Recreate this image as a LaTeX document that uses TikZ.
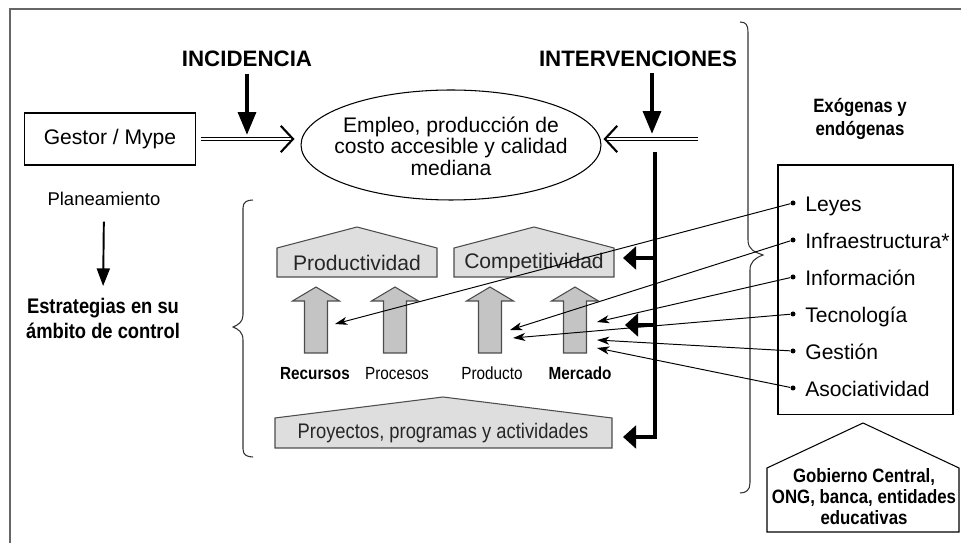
\documentclass[tikz,border=0pt]{standalone}
\usepackage{fontspec}
\setmainfont{Liberation Sans}
\newfontfamily\condfont{Liberation Sans}[FakeStretch=0.87]
\usetikzlibrary{arrows.meta,shapes.geometric,calc}

\begin{document}
\begin{tikzpicture}[%
    x=0.02cm, y=-0.02cm,
    frame/.style={draw=black!60, line width=0.6pt},
    box/.style={draw, line width=0.7pt, minimum width=3.42cm, minimum height=1.04cm,
      font=\fontsize{12}{14}\selectfont},
    goal/.style={ellipse, draw, line width=0.6pt, minimum width=6cm, minimum height=2.2cm},
    head/.style={font=\bfseries\fontsize{12.7}{15}\selectfont, inner sep=0pt},
    plain/.style={font=\fontsize{12}{14}\selectfont, inner sep=0pt},
    small/.style={font=\fontsize{10.5}{12}\selectfont, inner sep=0pt},
    cond/.style={font=\condfont\fontsize{10}{12}\selectfont, inner sep=0pt},
    condbf/.style={font=\condfont\bfseries\fontsize{11}{13}\selectfont, inner sep=0pt, align=center},
    house/.style={draw=black!70, fill=black!13, line width=0.6pt},
    blockarrow/.style={draw=black!70, fill=black!23, line width=0.6pt},
    brace/.style={draw=black!80, line width=0.6pt},
    bigarrow/.style={line width=2.4pt, -{Triangle[length=13pt,width=10pt]}},
    bar/.style={line width=1.9pt, -{Triangle[length=7.5pt,width=13pt]}},
    slim/.style={line width=1.1pt, -{Triangle[length=10pt,width=7.4pt]}},
    link/.style={line width=0.55pt, -{Stealth[length=7pt,width=4.6pt,inset=2pt]}},
    dbl/.style={double, double distance=1.6pt, line width=0.55pt,
      -{Straight Barb[length=7pt,width=15pt,line width=1.2pt]}},
    dot/.style={circle, fill, inner sep=0pt, minimum size=0.1cm},
    item/.style={plain, anchor=base west},
  ]
  \useasboundingbox (0,0) rectangle (961,543);
  \draw[frame] (10,560) -- (10,9) -- (975,9);

  % top row
  \node[box] (gestor) at (110,139) {Gestor / Mype};
  \node[goal] (meta) at (451,145) {};
  \node[plain, align=center, font=\fontsize{12}{12.3}\selectfont] (metatxt) at (451,146)
    {Empleo, producción de\\costo accesible y calidad\\mediana};
  \node[head, anchor=base] (inc) at (247,67) {INCIDENCIA};
  \node[head, anchor=base] (interv) at (638,67) {INTERVENCIONES};
  \coordinate (dblR) at (698,139);
  \coordinate (ivA) at (652,73);

  \draw[dbl, shorten <=0.1cm] (gestor.east) -- ($(meta.west |- gestor.east)+(-6,0)$);
  \draw[dbl] (dblR) -- ($(meta.east |- dblR)+(2,0)$);
  \draw[bigarrow, shorten <=0.12cm, shorten >=0.08cm] (inc.south) -- (inc.south |- gestor.east);
  \draw[bigarrow, shorten >=0.1cm] (ivA) -- (ivA |- dblR);

  % vertical bar
  \coordinate (vtop) at (655,152);
  \coordinate (vbot) at (655,437);
  \coordinate (vcomp) at (655,258);
  \coordinate (vmerc) at (655,325);
  \draw[bar] (vtop) -- (vbot) -- ++(-32,0);
  \draw[bar] (vcomp) -- ++(-32,0);
  \draw[bar] (vmerc) -- ++(-30,0);

  % left side
  \node[small, anchor=base] (plan) at (104,206) {Planeamiento};
  \node[condbf, font=\condfont\bfseries\fontsize{12}{14}\selectfont, anchor=north] (estr) at (103,298)
    {Estrategias en su\\ámbito de control};
  \draw[slim, shorten <=0.3cm, shorten >=0.24cm] (plan.south) -- (estr.north);

  % braces
  \draw[brace] (253,200) .. controls (247,200) and (243,202) .. (243,208) -- (243,315)
    .. controls (243,322) and (238,325) .. (233,327)
    .. controls (238,329) and (243,332) .. (243,340) -- (243,449)
    .. controls (243,455) and (247,457) .. (253,457);
  \draw[brace] (740,22) .. controls (746,22) and (748,25) .. (748,32) -- (748,240)
    .. controls (748,250) and (755,252) .. (763,255)
    .. controls (755,258) and (750,262) .. (750,270) -- (750,483)
    .. controls (750,490) and (746,493) .. (740,493);

  % houses
  \draw[house] (277,277) -- (277,248) -- (357,227) -- (437,248) -- (437,277) -- cycle;
  \draw[house] (454,277) -- (454,248) -- (534,227) -- (614,248) -- (614,277) -- cycle;
  \draw[house] (275,448) -- (275,418) -- (443,397) -- (612,418) -- (612,448) -- cycle;
  \node[plain, text=black!85] (prod) at (357,263) {Productividad};
  \node[plain, text=black!85] (comp) at (534,263) {Competitividad};
  \node[cond, font=\condfont\fontsize{12}{14}\selectfont, text=black!85] (proy) at (443,433)
    {Proyectos, programas y actividades};

  % block arrows
  \foreach \c in {316,395,490,575}
    \draw[blockarrow] (\c-11.5,353) -- (\c-11.5,301) -- (\c-23.5,301) -- (\c,287)
      -- (\c+23.5,301) -- (\c+11.5,301) -- (\c+11.5,353) -- cycle;
  \node[cond, font=\condfont\bfseries\fontsize{10}{12}\selectfont, anchor=base] (rec) at (315,380) {Recursos};
  \node[cond, anchor=base] (proc) at (397,380) {Procesos};
  \node[cond, anchor=base] (produ) at (492,380) {Producto};
  \node[cond, font=\condfont\bfseries\fontsize{10}{12}\selectfont, anchor=base] (merc) at (580,380) {Mercado};
  \coordinate (trec) at (335,324);
  \coordinate (tprod1) at (510,330);
  \coordinate (tprod2) at (513,338);
  \coordinate (tmerc1) at (597,322);
  \coordinate (tmerc2) at (597,340);
  \coordinate (tmerc3) at (597,348);

  % right side
  \node[condbf] (exo) at (860,119) {Exógenas y\\endógenas};
  \node[draw, line width=0.6pt, minimum width=3.5cm, minimum height=5cm] (factores) at (865.5,290) {};
  \foreach \n/\t [count=\i] in {leyes/Leyes, infra/Infraestructura*, info/Información,
      tec/Tecnología, ges/Gestión, asoc/Asociatividad} {
    \node[dot] (d\n) at (793,166+37*\i) {};
    \node[item] (\n) at (805,175+37*\i) {\t};
  }
  \draw[link] (dleyes) -- (trec);
  \draw[link] (dinfra) -- (tprod1);
  \draw[link] (dinfo) -- (tmerc1);
  \draw[link] (dtec) -- (tprod2);
  \draw[link] (dges) -- (tmerc2);
  \draw[link] (dasoc) -- (tmerc3);

  \draw[house, fill=white, draw=black] (767,532) -- (767,468) -- (863,423) -- (959,468)
    -- (959,532) -- cycle;
  \node[condbf, font=\condfont\bfseries\fontsize{11}{12}\selectfont] (gob) at (864,497)
    {Gobierno Central,\\ONG, banca, entidades\\educativas};
\end{tikzpicture}
\end{document}
